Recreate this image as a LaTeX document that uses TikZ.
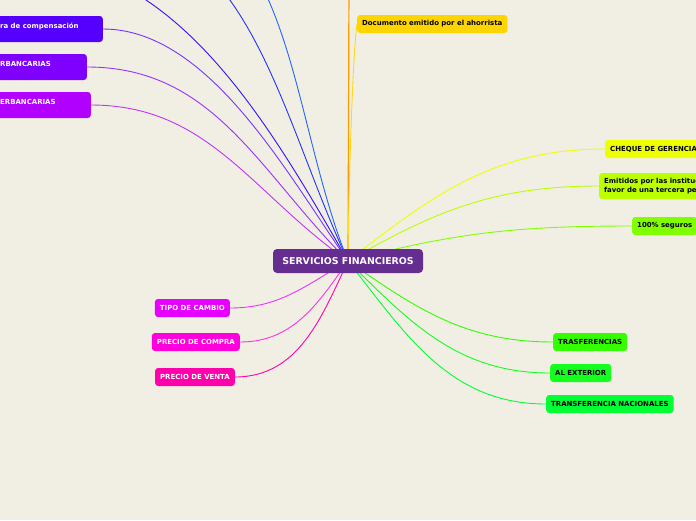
\documentclass[tikz,border=0pt]{standalone}
\usepackage{fontspec}
\setmainfont{DejaVu Sans}
\usetikzlibrary{calc}
\definecolor{bgc}{RGB}{241,239,227}
\definecolor{cen}{RGB}{102,45,145}
\definecolor{cA}{RGB}{85,0,255}
\definecolor{cB}{RGB}{127,0,255}
\definecolor{cC}{RGB}{178,0,255}
\definecolor{dblue}{RGB}{51,17,255}
\definecolor{mblue}{RGB}{34,51,255}
\definecolor{lblue}{RGB}{34,102,255}
\definecolor{orng}{RGB}{255,153,0}
\definecolor{docu}{RGB}{255,213,0}
\definecolor{cheq}{RGB}{238,255,0}
\definecolor{emit}{RGB}{187,255,0}
\definecolor{segu}{RGB}{128,255,0}
\definecolor{tras}{RGB}{51,255,0}
\definecolor{exte}{RGB}{20,255,30}
\definecolor{naci}{RGB}{0,255,51}
\definecolor{tipo}{RGB}{230,0,255}
\definecolor{comp}{RGB}{255,0,221}
\definecolor{vent}{RGB}{255,0,170}
\pgfdeclarelayer{back}
\pgfdeclarelayer{lines}
\pgfsetlayers{back,lines,main}
\tikzset{
  box/.style={rounded corners=3pt, inner xsep=5pt, inner ysep=0pt, minimum height=18pt,
    font=\fontsize{6.95}{8.7}\selectfont\bfseries},
  wbox/.style={box, text=white},
  kbox/.style={box, text=black},
  ctext/.style={inner sep=0pt, font=\fontsize{6.95}{8.7}\selectfont\bfseries, text=white},
  conn/.style={line width=0.9pt},
}
\begin{document}
\begin{tikzpicture}[x=1pt,y=-1pt]
\useasboundingbox (0,0) rectangle (696,520);
\begin{pgfonlayer}{back}
\fill[bgc] (0,0) rectangle (696,520);
\end{pgfonlayer}
\clip (0,0) rectangle (696,520);

% center
\node[rounded corners=4pt, fill=cen, text=white, minimum width=150pt, minimum height=24pt, inner sep=0pt,
  font=\fontsize{9.4}{11}\selectfont\bfseries] (c) at (348,261) {SERVICIOS FINANCIEROS};

% left (purple) nodes, partly cut off
\node[box, fill=cA, anchor=east, minimum width=140pt, minimum height=26pt] (l1) at (103,29) {};
\node[ctext, anchor=base west] (l1t) at (0,28) {ra de compensación};
\node[box, fill=cB, anchor=east, minimum width=140pt, minimum height=26pt] (l2) at (87,67) {};
\node[ctext, anchor=base west] (l2t) at (0,66) {RBANCARIAS};
\node[box, fill=cC, anchor=east, minimum width=140pt, minimum height=26pt] (l3) at (91,105) {};
\node[ctext, anchor=base west] (l3t) at (0,104) {ERBANCARIAS};

% off-picture ends of the blue connectors
\coordinate (db) at (20,-40);
\coordinate (mb) at (80,-80);
\coordinate (lb) at (130,-100);
\coordinate (ot) at (349,-20);

% top
\node[kbox, fill=docu, anchor=west] (d) at (357,24) {Documento emitido por el ahorrista};

% right
\node[kbox, fill=cheq, anchor=west] (ch) at (605,149) {CHEQUE DE GERENCIA};
\node[kbox, fill=emit, anchor=west, minimum height=26pt, align=left] (em) at (599,186)
  {Emitidos por las instituc\\favor de una tercera pe};
\node[kbox, fill=segu, anchor=west] (sg) at (632,226) {100\% seguros};
\node[kbox, fill=tras, anchor=west] (tr) at (553,342) {TRASFERENCIAS};
\node[kbox, fill=exte, anchor=west] (ex) at (550,373) {AL EXTERIOR};
\node[kbox, fill=naci, anchor=west] (na) at (546,404) {TRANSFERENCIA NACIONALES};

% left lower
\node[wbox, fill=tipo, anchor=east] (ti) at (230,308) {TIPO DE CAMBIO};
\node[wbox, fill=comp, anchor=east] (co) at (240,342) {PRECIO DE COMPRA};
\node[wbox, fill=vent, anchor=east] (ve) at (235,377) {PRECIO DE VENTA};

\begin{pgfonlayer}{lines}
\draw[conn, cA!80!white] (c.center) to[out=125, in=0, looseness=0.8] (l1.east);
\draw[conn, cB!80!white] (c.center) to[out=135, in=0] (l2.east);
\draw[conn, cC!80!white] (c.center) to[out=145, in=0] (l3.east);
\draw[conn, dblue] (c.center) to[out=120, in=0, looseness=0.9] (db);
\draw[conn, mblue] (c.center) to[out=115, in=0] (mb);
\draw[conn, lblue] (c.center) to[out=112, in=0] (lb);
\draw[line width=1.2pt, orng] (c.center) -- (ot);
\draw[conn, docu!90!white] (c.center) to[out=90, in=-98, looseness=0.4] (d.west);
\draw[conn, cheq] (c.center) to[out=38, in=180] (ch.west);
\draw[conn, emit] (c.center) to[out=30, in=180] (em.west);
\draw[conn, segu] (c.center) to[out=15, in=180] (sg.west);
\draw[conn, tras] (c.center) to[out=-35, in=180] (tr.west);
\draw[conn, exte] (c.center) to[out=-45, in=180] (ex.west);
\draw[conn, naci] (c.center) to[out=-52, in=180] (na.west);
\draw[conn, tipo!80!white] (c.center) to[out=-150, in=0] (ti.east);
\draw[conn, comp!80!white] (c.center) to[out=-125, in=0] (co.east);
\draw[conn, vent] (c.center) to[out=-115, in=0] (ve.east);
\end{pgfonlayer}
\end{tikzpicture}
\end{document}
